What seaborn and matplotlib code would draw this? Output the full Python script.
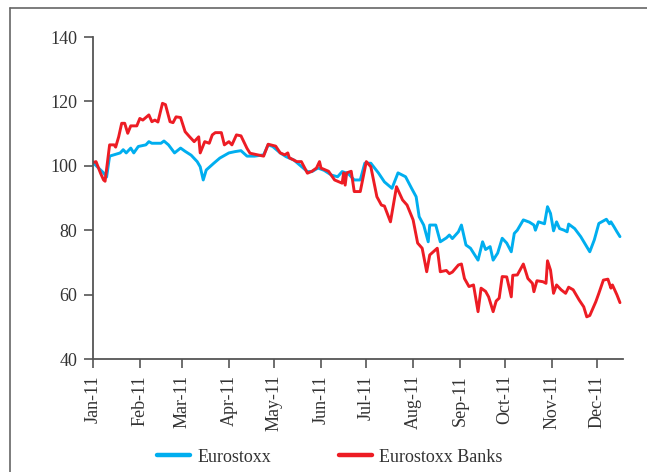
import pandas as pd
import matplotlib
matplotlib.use("Agg")
import matplotlib.pyplot as plt
import matplotlib.dates as mdates
from matplotlib.lines import Line2D
import seaborn as sns

# Eurostoxx (index, Jan 2011 = 100)
stoxx_dates = ["01-01", "01-08", "01-10", "01-12", "01-19", "01-21", "01-23", "01-26",
               "01-28", "01-31", "02-05", "02-07", "02-09", "02-15", "02-17", "02-20",
               "02-24", "02-28", "03-03", "03-07", "03-11", "03-13", "03-15", "03-17",
               "03-22", "03-26", "04-01", "04-05", "04-09", "04-13", "04-18", "04-24",
               "04-27", "04-30", "05-05", "05-09", "05-14", "05-18", "05-23", "05-26",
               "05-30", "06-03", "06-08", "06-12", "06-15", "06-19", "06-23", "06-27",
               "06-30", "07-04", "07-09", "07-13", "07-18", "07-22", "07-27", "07-31",
               "08-03", "08-05", "08-08", "08-11", "08-12", "08-16", "08-19", "08-23",
               "08-25", "08-27", "08-31", "09-02", "09-05", "09-08", "09-13", "09-16",
               "09-18", "09-21", "09-23", "09-26", "09-29", "10-02", "10-05", "10-07",
               "10-09", "10-13", "10-17", "10-20", "10-21", "10-23", "10-27", "10-29",
               "10-31", "11-02", "11-04", "11-06", "11-09", "11-11", "11-12", "11-16",
               "11-20", "11-26", "11-29", "12-02", "12-07", "12-09", "12-10", "12-12",
               "12-14", "12-16"]
stoxx_values = [101, 97.8, 96.5, 103, 104, 105, 104, 105.5,
                104, 106, 106.5, 107.5, 107, 107, 107.7, 106.5,
                104, 105.5, 104.5, 103.3, 101.3, 99.7, 95.6, 98.7,
                100.8, 102.4, 104, 104.4, 104.7, 103, 103, 103.4,
                106.5, 106, 104, 102.8, 101.8, 100.2, 98.2, 98.2,
                99.3, 98.6, 97.1, 96.6, 98.2, 97.6, 95.6, 95.6,
                100.8, 100.8, 97.8, 95, 93, 97.8, 96.6, 93,
                90.4, 84.2, 81.6, 76.4, 81.6, 81.6, 76.4, 77.6,
                78.5, 77.4, 79.5, 81.6, 75.4, 74.4, 70.7, 76.4,
                74, 74.9, 70.7, 72.9, 77.5, 76, 73.3, 79,
                80, 83.2, 82.5, 81.6, 80, 82.6, 82, 87.3,
                85.2, 79.8, 82.6, 80.5, 80, 79.5, 81.9, 80.5,
                78, 73.3, 77, 82.1, 83.4, 82, 82.6, 81.1,
                79.5, 78]

# Eurostoxx Banks
banks_dates = ["01-01", "01-03", "01-06", "01-08", "01-09", "01-12", "01-15", "01-16",
               "01-18", "01-20", "01-22", "01-24", "01-26", "01-30", "02-01", "02-03",
               "02-07", "02-09", "02-11", "02-13", "02-16", "02-18", "02-21", "02-23",
               "02-25", "02-28", "03-03", "03-06", "03-09", "03-12", "03-13", "03-16",
               "03-19", "03-21", "03-23", "03-27", "03-29", "04-01", "04-03", "04-06",
               "04-09", "04-13", "04-15", "04-24", "04-27", "05-02", "05-05", "05-08",
               "05-10", "05-11", "05-16", "05-19", "05-23", "05-26", "05-29", "05-31",
               "06-01", "06-06", "06-10", "06-15", "06-16", "06-17", "06-18", "06-21",
               "06-23", "06-27", "07-01", "07-04", "07-08", "07-11", "07-13", "07-17",
               "07-21", "07-25", "07-28", "08-01", "08-04", "08-07", "08-10", "08-12",
               "08-17", "08-19", "08-23", "08-25", "08-27", "08-31", "09-02", "09-04",
               "09-07", "09-10", "09-13", "09-15", "09-18", "09-20", "09-23", "09-25",
               "09-27", "09-29", "10-02", "10-05", "10-06", "10-09", "10-13", "10-16",
               "10-19", "10-20", "10-22", "10-26", "10-28", "10-29", "10-31", "11-02",
               "11-04", "11-07", "11-10", "11-12", "11-15", "11-19", "11-22", "11-24",
               "11-26", "11-30", "12-02", "12-05", "12-08", "12-10", "12-11", "12-14",
               "12-16"]
banks_values = [101, 101.3, 97.7, 95.6, 95.2, 106.5, 106.5, 105.8,
                109, 113.2, 113.2, 110.1, 112.4, 112.4, 114.7, 114.2,
                115.8, 113.7, 114.2, 113.6, 119.4, 119, 113.7, 113.4,
                115.2, 115, 110.6, 109, 107.5, 109, 104, 107.5,
                107, 109.6, 110.3, 110.3, 106.5, 107.5, 106.5, 109.6,
                109.3, 105.4, 103.9, 103, 106.7, 106.1, 104, 103.4,
                104, 102.5, 101.3, 101.3, 97.7, 98.3, 99.3, 101.3,
                99.3, 98.3, 95.6, 94.6, 97.8, 94, 97.8, 98.3,
                92, 92, 101.3, 99.7, 90.4, 87.8, 87.5, 82.6,
                93.5, 89.4, 87.8, 83.2, 76, 74.4, 67.1, 72.3,
                74.4, 67.1, 67.5, 66.5, 67, 69.2, 69.5, 65,
                62.5, 63, 54.7, 62, 61, 59.3, 54.7, 58,
                58.9, 65.6, 65.5, 59.3, 66, 66.1, 69.5, 65,
                63.5, 60.9, 64.3, 64, 63.5, 70.5, 67.6, 60.4,
                63, 61.5, 60.4, 62.3, 61.5, 58.3, 56.2, 53.1,
                53.5, 57.8, 60.4, 64.5, 64.8, 62, 63, 59.9,
                57.5]

series_names = ["Eurostoxx", "Eurostoxx Banks"]
series_colors = ["#00aeef", "#ed1c24"]

df = pd.concat([
    pd.DataFrame({"date": pd.to_datetime(["2011-" + d for d in stoxx_dates]),
                  "value": stoxx_values, "series": series_names[0]}),
    pd.DataFrame({"date": pd.to_datetime(["2011-" + d for d in banks_dates]),
                  "value": banks_values, "series": series_names[1]}),
])

sns.set_style("white")
plt.rcParams["font.family"] = ["Liberation Serif", "DejaVu Serif"]

fig = plt.figure(figsize=(6.47, 4.72), dpi=100)
ax = fig.add_axes([93 / 647, 1 - 359 / 472, 530 / 647, 322 / 472])

sns.lineplot(data=df, x="date", y="value", hue="series", palette=series_colors,
             linewidth=2.1, ax=ax, legend=False)

ax.set_ylim(40, 140)
ax.set_yticks([40, 60, 80, 100, 120, 140])
ax.set_xlim(pd.Timestamp("2011-01-01"), pd.Timestamp("2011-12-18"))
ax.xaxis.set_major_locator(mdates.MonthLocator())
ax.xaxis.set_major_formatter(mdates.DateFormatter("%b-%y"))
ax.set_xlabel("")
ax.set_ylabel("")

for side in ["top", "right"]:
    ax.spines[side].set_visible(False)
for side in ["left", "bottom"]:
    ax.spines[side].set_color("#555555")
    ax.spines[side].set_linewidth(1.3)
ax.tick_params(axis="both", direction="out", length=6.5, width=1.2, color="#555555",
               labelsize=13, labelcolor="#333333", left=True, bottom=True, pad=5)
ax.tick_params(axis="x", rotation=90)

# outer frame (cut off at right and bottom)
fig.add_artist(Line2D([10 / 647, 10 / 647], [0, 1 - 8 / 472], transform=fig.transFigure,
                      color="#666666", lw=1.2))
fig.add_artist(Line2D([10 / 647, 1], [1 - 8 / 472, 1 - 8 / 472], transform=fig.transFigure,
                      color="#666666", lw=1.2))

handles = [Line2D([], [], color=c, lw=3.2) for c in series_colors]
fig.legend(handles, series_names, loc="center", ncol=2, frameon=False,
           bbox_to_anchor=(330 / 647, 1 - 457 / 472), fontsize=13, handlelength=1.8,
           handletextpad=0.4, columnspacing=3.8, labelcolor="#333333")

fig.savefig("out.png", dpi=100)
